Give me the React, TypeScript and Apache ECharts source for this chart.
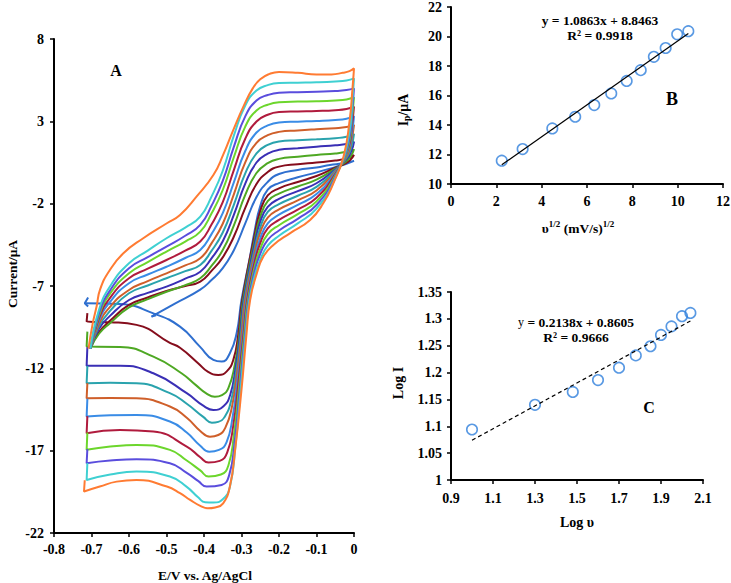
import React, { useEffect, useRef } from 'react';
import * as echarts from 'echarts';

type P = [number, number];

// Panel A: cyclic voltammograms (E / V, I / µA), scan rates 5..110 mV/s
const cv5: P[] = [[-0.54,-8.86],[-0.48,-8.1],[-0.411,-7.24],[-0.38,-6.64],[-0.35,-5.92],[-0.32,-4.81],[-0.29,-3.2],[-0.26,-1.6],[-0.23,-0.68],[-0.2,-0.2],[-0.15,0.05],[-0.1,0.2],[-0.064,0.35],[-0.03,0.45],[0,0.6],
  [-0.02,0.42],[-0.05,0.22],[-0.1,-0.1],[-0.15,-0.4],[-0.2,-0.75],[-0.23,-1.15],[-0.25,-2.15],[-0.265,-3.65],[-0.278,-5.3],[-0.3,-7.85],[-0.313,-9.87],[-0.331,-11.08],[-0.353,-11.59],[-0.375,-11.49],[-0.411,-10.68],[-0.464,-9.47],[-0.535,-8.66],[-0.624,-8.1],[-0.717,-8.05]];
const cv10: P[] = [[-0.703,-10.8],[-0.68,-9.8],[-0.65,-9.1],[-0.6,-8.15],[-0.55,-7.7],[-0.5,-7.3],[-0.45,-7.0],[-0.41,-6.73],[-0.38,-6.08],[-0.35,-5.26],[-0.32,-3.98],[-0.29,-2.26],[-0.26,-0.81],[-0.23,-0.08],[-0.2,0.25],[-0.15,0.4],[-0.1,0.5],[-0.05,0.62],[-0.02,0.75],[0,0.95],
  [-0.01,0.65],[-0.025,0.42],[-0.05,0.18],[-0.1,-0.32],[-0.15,-0.68],[-0.2,-1.07],[-0.23,-1.5],[-0.25,-2.45],[-0.265,-3.9],[-0.298,-7.85],[-0.309,-10.0],[-0.322,-11.5],[-0.34,-12.2],[-0.362,-12.4],[-0.39,-12.2],[-0.415,-11.7],[-0.464,-10.75],[-0.491,-10.45],[-0.58,-9.36],[-0.65,-9.2],[-0.713,-9.16],[-0.711,-8.65]];
const cv20: P[] = [[-0.703,-10.8],[-0.68,-9.9],[-0.65,-9.25],[-0.6,-8.3],[-0.55,-7.8],[-0.5,-7.35],[-0.45,-6.95],[-0.41,-6.53],[-0.38,-5.78],[-0.35,-4.82],[-0.32,-3.3],[-0.29,-1.47],[-0.26,-0.14],[-0.23,0.46],[-0.2,0.72],[-0.15,0.85],[-0.1,0.96],[-0.05,1.05],[-0.02,1.15],[0,1.3],
  [-0.008,0.9],[-0.022,0.55],[-0.05,0.13],[-0.1,-0.54],[-0.15,-0.96],[-0.2,-1.39],[-0.23,-1.85],[-0.25,-2.8],[-0.265,-4.2],[-0.296,-7.85],[-0.306,-10.0],[-0.318,-11.8],[-0.335,-13.2],[-0.352,-13.62],[-0.371,-13.72],[-0.395,-13.5],[-0.42,-13.05],[-0.46,-12.3],[-0.535,-11.29],[-0.624,-10.7],[-0.713,-10.68],[-0.711,-9.77]];
const cv30: P[] = [[-0.703,-10.8],[-0.68,-9.6],[-0.65,-8.8],[-0.6,-7.85],[-0.55,-7.42],[-0.5,-7.04],[-0.45,-6.55],[-0.41,-6.13],[-0.38,-5.32],[-0.35,-4.28],[-0.32,-2.65],[-0.29,-0.78],[-0.26,0.5],[-0.23,1.04],[-0.2,1.27],[-0.15,1.36],[-0.1,1.46],[-0.05,1.55],[-0.02,1.62],[0,1.76],
  [-0.007,1.2],[-0.02,0.7],[-0.05,0.08],[-0.1,-0.76],[-0.15,-1.24],[-0.2,-1.71],[-0.23,-2.2],[-0.25,-3.1],[-0.265,-4.45],[-0.294,-7.85],[-0.304,-10.0],[-0.316,-12.0],[-0.33,-13.6],[-0.348,-14.3],[-0.375,-14.53],[-0.4,-14.3],[-0.446,-13.51],[-0.535,-12.3],[-0.624,-11.85],[-0.713,-11.85],[-0.711,-10.7]];
const cv40: P[] = [[-0.703,-10.8],[-0.68,-9.45],[-0.65,-8.5],[-0.6,-7.44],[-0.55,-6.97],[-0.5,-6.53],[-0.45,-6.1],[-0.41,-5.72],[-0.38,-4.87],[-0.35,-3.75],[-0.32,-2.04],[-0.29,-0.16],[-0.26,1.06],[-0.23,1.57],[-0.2,1.78],[-0.15,1.85],[-0.1,1.91],[-0.05,1.98],[-0.02,2.06],[0,2.23],
  [-0.006,1.55],[-0.018,0.85],[-0.05,0.02],[-0.1,-0.98],[-0.15,-1.52],[-0.2,-2.03],[-0.23,-2.5],[-0.25,-3.45],[-0.265,-4.75],[-0.292,-7.85],[-0.302,-10.0],[-0.314,-12.2],[-0.328,-14.0],[-0.345,-14.95],[-0.362,-15.25],[-0.379,-15.3],[-0.402,-14.95],[-0.446,-14.15],[-0.491,-13.51],[-0.58,-12.91],[-0.65,-12.88],[-0.713,-12.91],[-0.711,-11.85]];
const cv50: P[] = [[-0.703,-10.8],[-0.68,-9.3],[-0.65,-8.25],[-0.6,-7.24],[-0.55,-6.7],[-0.5,-6.23],[-0.45,-5.75],[-0.41,-5.32],[-0.38,-4.41],[-0.35,-3.22],[-0.32,-1.4],[-0.29,0.51],[-0.26,1.69],[-0.23,2.16],[-0.2,2.36],[-0.15,2.45],[-0.1,2.52],[-0.05,2.58],[-0.02,2.65],[0,2.78],
  [-0.006,1.95],[-0.017,1.0],[-0.05,-0.05],[-0.1,-1.2],[-0.15,-1.8],[-0.2,-2.35],[-0.23,-2.85],[-0.25,-3.75],[-0.265,-5.0],[-0.29,-7.85],[-0.3,-10.0],[-0.312,-12.3],[-0.326,-14.4],[-0.343,-15.6],[-0.362,-16.05],[-0.384,-16.15],[-0.41,-15.8],[-0.446,-15.0],[-0.491,-14.32],[-0.58,-13.82],[-0.65,-13.8],[-0.713,-13.82],[-0.711,-12.9]];
const cv60: P[] = [[-0.703,-10.8],[-0.68,-9.1],[-0.65,-7.95],[-0.6,-6.83],[-0.55,-6.3],[-0.5,-5.83],[-0.45,-5.3],[-0.41,-4.81],[-0.38,-3.85],[-0.35,-2.58],[-0.32,-0.68],[-0.29,1.2],[-0.26,2.32],[-0.23,2.75],[-0.2,2.93],[-0.15,2.98],[-0.1,3.02],[-0.05,3.08],[-0.02,3.16],[0,3.32],
  [-0.005,2.4],[-0.016,1.2],[-0.05,-0.12],[-0.1,-1.42],[-0.15,-2.08],[-0.2,-2.67],[-0.23,-3.2],[-0.25,-4.1],[-0.265,-5.3],[-0.287,-7.85],[-0.297,-10.0],[-0.31,-12.6],[-0.324,-15.0],[-0.34,-16.5],[-0.36,-16.95],[-0.386,-17.06],[-0.41,-16.7],[-0.446,-15.9],[-0.491,-15.23],[-0.58,-14.83],[-0.65,-14.85],[-0.713,-14.93],[-0.711,-13.85]];
const cv70: P[] = [[-0.703,-10.8],[-0.68,-8.95],[-0.65,-7.7],[-0.6,-6.53],[-0.55,-5.95],[-0.5,-5.42],[-0.45,-4.85],[-0.41,-4.3],[-0.38,-3.27],[-0.35,-1.91],[-0.32,0.07],[-0.29,1.94],[-0.26,2.99],[-0.23,3.4],[-0.2,3.56],[-0.15,3.6],[-0.1,3.63],[-0.05,3.68],[-0.02,3.75],[0,3.89],
  [-0.005,2.85],[-0.015,1.4],[-0.05,-0.2],[-0.1,-1.64],[-0.15,-2.36],[-0.2,-2.99],[-0.23,-3.5],[-0.25,-4.4],[-0.265,-5.55],[-0.285,-7.85],[-0.295,-10.0],[-0.308,-12.8],[-0.322,-15.5],[-0.338,-17.1],[-0.358,-17.62],[-0.388,-17.72],[-0.41,-17.4],[-0.446,-16.75],[-0.535,-15.84],[-0.624,-15.74],[-0.713,-15.94],[-0.711,-14.9]];
const cv80: P[] = [[-0.703,-10.8],[-0.68,-8.8],[-0.65,-7.45],[-0.6,-6.23],[-0.55,-5.55],[-0.5,-4.91],[-0.45,-4.3],[-0.41,-3.7],[-0.38,-2.6],[-0.35,-1.17],[-0.32,0.85],[-0.29,2.68],[-0.26,3.66],[-0.23,4.01],[-0.2,4.16],[-0.15,4.2],[-0.1,4.22],[-0.05,4.27],[-0.02,4.33],[0,4.46],
  [-0.005,3.3],[-0.014,1.6],[-0.05,-0.28],[-0.1,-1.86],[-0.15,-2.64],[-0.2,-3.31],[-0.23,-3.85],[-0.25,-4.75],[-0.265,-5.85],[-0.283,-7.85],[-0.293,-10.0],[-0.306,-13.0],[-0.32,-16.0],[-0.335,-17.9],[-0.355,-18.45],[-0.388,-18.57],[-0.41,-18.2],[-0.446,-17.6],[-0.491,-16.95],[-0.58,-16.65],[-0.65,-16.75],[-0.713,-16.95],[-0.711,-15.9]];
const cv90: P[] = [[-0.703,-10.8],[-0.68,-8.65],[-0.65,-7.25],[-0.6,-5.92],[-0.55,-5.25],[-0.5,-4.61],[-0.45,-3.95],[-0.41,-3.29],[-0.38,-2.13],[-0.35,-0.62],[-0.32,1.48],[-0.29,3.3],[-0.26,4.26],[-0.23,4.6],[-0.2,4.74],[-0.15,4.77],[-0.1,4.8],[-0.05,4.84],[-0.02,4.9],[0,5.0],
  [-0.004,3.9],[-0.013,1.9],[-0.05,-0.36],[-0.1,-2.08],[-0.15,-2.92],[-0.2,-3.63],[-0.23,-4.2],[-0.25,-5.05],[-0.265,-6.1],[-0.281,-7.85],[-0.291,-10.0],[-0.304,-13.1],[-0.318,-16.4],[-0.333,-18.5],[-0.353,-19.08],[-0.393,-19.18],[-0.415,-18.85],[-0.446,-18.35],[-0.491,-17.76],[-0.58,-17.52],[-0.65,-17.6],[-0.713,-17.76],[-0.711,-16.9]];
const cv100: P[] = [[-0.703,-10.8],[-0.68,-8.45],[-0.65,-7.0],[-0.6,-5.62],[-0.55,-4.85],[-0.5,-4.1],[-0.45,-3.45],[-0.41,-2.79],[-0.38,-1.57],[-0.35,0.0],[-0.32,2.16],[-0.29,3.96],[-0.26,4.87],[-0.23,5.2],[-0.2,5.33],[-0.15,5.35],[-0.1,5.37],[-0.05,5.42],[-0.02,5.48],[0,5.61],
  [-0.004,4.4],[-0.013,2.2],[-0.05,-0.45],[-0.1,-2.3],[-0.15,-3.2],[-0.2,-3.95],[-0.23,-4.55],[-0.25,-5.4],[-0.265,-6.4],[-0.279,-7.85],[-0.289,-10.0],[-0.302,-13.2],[-0.316,-16.7],[-0.331,-19.2],[-0.35,-19.95],[-0.375,-20.15],[-0.397,-20.13],[-0.415,-19.85],[-0.446,-19.2],[-0.491,-18.57],[-0.58,-18.27],[-0.65,-18.45],[-0.713,-18.78],[-0.711,-17.75]];
const cv110: P[] = [[-0.708,-10.8],[-0.697,-9.3],[-0.686,-8.2],[-0.677,-7.2],[-0.651,-6.03],[-0.615,-5.01],[-0.562,-4.1],[-0.499,-3.19],[-0.464,-2.69],[-0.42,-1.57],[-0.375,-0.26],[-0.349,0.96],[-0.322,2.47],[-0.295,3.89],[-0.27,5.0],[-0.25,5.55],[-0.225,5.88],[-0.2,6.0],[-0.15,5.95],[-0.1,5.85],[-0.06,5.85],[-0.03,5.95],[-0.012,6.05],[0,6.22],
  [-0.004,5.0],[-0.012,3.0],[-0.028,0.85],[-0.055,-0.76],[-0.082,-1.98],[-0.117,-2.99],[-0.171,-3.8],[-0.215,-4.51],[-0.242,-5.22],[-0.259,-6.23],[-0.277,-7.85],[-0.287,-10.0],[-0.3,-13.3],[-0.317,-16.95],[-0.331,-19.18],[-0.349,-20.2],[-0.37,-20.45],[-0.39,-20.5],[-0.41,-20.35],[-0.437,-19.99],[-0.464,-19.58],[-0.499,-19.18],[-0.58,-18.78],[-0.633,-18.88],[-0.678,-19.18],[-0.72,-19.48],[-0.718,-18.8]];

const cvCurves: P[][] = [cv5, cv10, cv20, cv30, cv40, cv50, cv60, cv70, cv80, cv90, cv100, cv110];
const cvColors = ['#2f6fcf', '#850d1c', '#4ea823', '#3a2fb5', '#2aa3ad', '#cf5f2a', '#3a8ce6', '#b01b3d', '#6cd62c', '#5a4ddd', '#3fd0d2', '#ff7b32'];

// arrow marks on the first (5 mV/s) scan
const arrowEnd: P[] = [[-0.709,-7.7],[-0.718,-8.05],[-0.709,-8.25]];
const arrowStart: P[] = [[-0.54,-8.86],[-0.528,-8.78]];

// Panel B: Ip vs sqrt(scan rate)
const sqrtRate = [2.24, 3.16, 4.47, 5.48, 6.32, 7.07, 7.75, 8.37, 8.95, 9.47, 9.98, 10.47];
const peakCurrent = [11.58, 12.37, 13.77, 14.56, 15.35, 16.14, 16.99, 17.72, 18.62, 19.22, 20.15, 20.36];
const fitBx = [2.24, 10.47];
const fitBy = [11.3, 20.2];

// Panel C: log I vs log scan rate
const logRate = [1.0, 1.3, 1.48, 1.6, 1.7, 1.78, 1.85, 1.9, 1.95, 2.0, 2.04];
const logCurrent = [1.094, 1.14, 1.164, 1.186, 1.209, 1.232, 1.249, 1.27, 1.286, 1.305, 1.311];
const fitCx = [1.0, 2.04];
const fitCy = [1.074, 1.296];

const SERIF = '"Liberation Serif", "Times New Roman", serif';
const TICK = 14;

function lbl(margin: number, formatter?: any) {
  const o: any = { color: '#000', fontFamily: SERIF, fontWeight: 'bold', fontSize: TICK, margin, showMinLabel: true, showMaxLabel: true };
  if (formatter) o.formatter = formatter;
  return o;
}

function axis(extra: any) {
  return {
    type: 'value',
    axisLine: { show: true, onZero: false, lineStyle: { color: '#000', width: 2 } },
    axisTick: { show: true, inside: false, length: 4, lineStyle: { color: '#000', width: 1.5 } },
    splitLine: { show: false },
    ...extra,
  };
}

function txt(text: string, x: number, y: number, size: number, extra: any = {}) {
  return {
    type: 'text', x, y, ...extra,
    style: { text, fill: '#000', fontFamily: SERIF, fontWeight: 'bold', fontSize: size, align: 'center', verticalAlign: 'middle' },
  };
}

export default function App() {
  const ref = useRef<HTMLDivElement>(null);
  useEffect(() => {
    document.body.style.margin = '0';
    const chart = echarts.init(ref.current!, undefined, { renderer: 'svg' });
    const fmt1 = (v: number) => (Math.abs(v) < 1e-9 ? '0' : v.toFixed(1));
    const fmtInt = (v: number) => String(Math.round(v));
    const fmt2 = (v: number) => String(parseFloat(v.toFixed(2)));
    const series: any[] = cvCurves.map((d, i) => ({
      type: 'line', xAxisIndex: 0, yAxisIndex: 0, data: d, showSymbol: false, symbol: 'none',
      smooth: 0.5, lineStyle: { color: cvColors[i], width: 2 }, silent: true,
    }));
    series.push({ type: 'line', xAxisIndex: 0, yAxisIndex: 0, data: arrowEnd, symbol: 'none', lineStyle: { color: cvColors[0], width: 2 }, silent: true });
    series.push({ type: 'line', xAxisIndex: 0, yAxisIndex: 0, data: arrowStart, symbol: 'none', lineStyle: { color: cvColors[0], width: 2 }, silent: true });
    series.push({ type: 'line', xAxisIndex: 1, yAxisIndex: 1, data: fitBx.map((x, i) => [x, fitBy[i]]), symbol: 'none', lineStyle: { color: '#000', width: 1.2 }, silent: true });
    series.push({ type: 'scatter', xAxisIndex: 1, yAxisIndex: 1, data: sqrtRate.map((x, i) => [x, peakCurrent[i]]), symbol: 'circle', symbolSize: 10.5,
      itemStyle: { color: 'rgba(255,255,255,0)', borderColor: '#2f7fdc', borderWidth: 1.6 }, silent: true });
    series.push({ type: 'line', xAxisIndex: 2, yAxisIndex: 2, data: fitCx.map((x, i) => [x, fitCy[i]]), symbol: 'none', lineStyle: { color: '#000', width: 1.2, type: [4, 3] }, silent: true });
    series.push({ type: 'scatter', xAxisIndex: 2, yAxisIndex: 2, data: logRate.map((x, i) => [x, logCurrent[i]]), symbol: 'circle', symbolSize: 10.5,
      itemStyle: { color: 'rgba(255,255,255,0)', borderColor: '#2f7fdc', borderWidth: 1.6 }, silent: true });

    chart.setOption({
      animation: false,
      backgroundColor: '#fff',
      grid: [
        { left: 54, top: 39, width: 300, height: 494, outerBoundsMode: 'none' },
        { left: 451, top: 7, width: 272, height: 177, outerBoundsMode: 'none' },
        { left: 451, top: 292, width: 252, height: 188, outerBoundsMode: 'none' },
      ],
      xAxis: [
        axis({ gridIndex: 0, min: -0.8, max: 0, interval: 0.1, axisLabel: lbl(9, fmt1) }),
        axis({ gridIndex: 1, min: 0, max: 12, interval: 2, axisLabel: lbl(10, fmtInt) }),
        axis({ gridIndex: 2, min: 0.9, max: 2.1, interval: 0.2, axisLabel: lbl(11, fmt1) }),
      ],
      yAxis: [
        axis({ gridIndex: 0, min: -22, max: 8, interval: 5, axisLabel: lbl(10, fmtInt) }),
        axis({ gridIndex: 1, min: 10, max: 22, interval: 2, axisLabel: lbl(9, fmtInt) }),
        axis({ gridIndex: 2, min: 1, max: 1.35, interval: 0.05, axisLabel: lbl(9, fmt2) }),
      ],
      series,
      graphic: [
        txt('A', 116, 70, 16),
        txt('Current/μA', 12, 274, 13.5, { rotation: Math.PI / 2 }),
        txt('E/V vs. Ag/AgCl', 205, 575, 13.5),
        txt('y = 1.0863x + 8.8463', 600, 20, 13.5),
        txt('R² = 0.9918', 600, 35, 13.5),
        txt('B', 672, 99, 18),
        {
          type: 'text', x: 403, y: 110, rotation: Math.PI / 2,
          style: {
            text: '{a|I}{s|p}{a|/μA}', align: 'center', verticalAlign: 'middle', fill: '#000',
            rich: {
              a: { fontFamily: SERIF, fontWeight: 'bold', fontSize: 14, lineHeight: 18, verticalAlign: 'middle' },
              s: { fontFamily: SERIF, fontWeight: 'bold', fontSize: 9.5, lineHeight: 18, verticalAlign: 'bottom' },
            },
          },
        },
        {
          type: 'text', x: 578, y: 227,
          style: {
            text: '{a|υ}{s|1/2}{a| (mV/s)}{s|1/2}', align: 'center', verticalAlign: 'middle', fill: '#000',
            rich: {
              a: { fontFamily: SERIF, fontWeight: 'bold', fontSize: 13.5, lineHeight: 16, verticalAlign: 'bottom' },
              s: { fontFamily: SERIF, fontWeight: 'bold', fontSize: 9, lineHeight: 16, verticalAlign: 'top' },
            },
          },
        },
        {
          type: 'text', x: 576, y: 322,
          style: {
            text: '{y|y}{a| = 0.2138x + 0.8605}', align: 'center', verticalAlign: 'middle', fill: '#000',
            rich: {
              y: { fontFamily: SERIF, fontWeight: 'normal', fontSize: 12 },
              a: { fontFamily: SERIF, fontWeight: 'bold', fontSize: 13.5 },
            },
          },
        },
        txt('R² = 0.9666', 576, 337, 13.5),
        txt('C', 649, 407, 16),
        txt('Log I', 398, 383, 14, { rotation: Math.PI / 2 }),
        txt('Log υ', 577, 522, 14),
      ],
    });
    return () => chart.dispose();
  }, []);
  return <div ref={ref} style={{ width: 731, height: 583 }} />;
}
